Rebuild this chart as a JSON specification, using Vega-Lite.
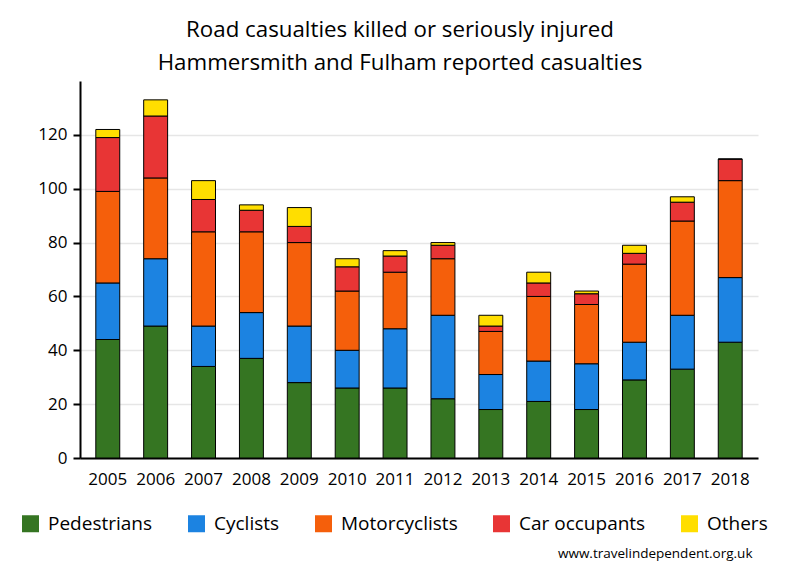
{
  "$schema": "https://vega.github.io/schema/vega-lite/v6.json",
  "autosize": "none",
  "width": 678,
  "height": 377,
  "padding": {"left": 80, "top": 81, "right": 42, "bottom": 122},
  "background": "white",
  "title": {
    "text": ["Road casualties killed or seriously injured", "Hammersmith and Fulham reported casualties"],
    "font": "Open Sans",
    "fontSize": 22.3,
    "fontWeight": "normal",
    "color": "black",
    "lineHeight": 33,
    "anchor": "middle",
    "frame": "group",
    "dx": -19,
    "offset": 7
  },
  "data": {
    "values": [
      {"year": "2005", "type": "Pedestrians", "value": 44},
      {"year": "2005", "type": "Cyclists", "value": 21},
      {"year": "2005", "type": "Motorcyclists", "value": 34},
      {"year": "2005", "type": "Car occupants", "value": 20},
      {"year": "2005", "type": "Others", "value": 3},
      {"year": "2006", "type": "Pedestrians", "value": 49},
      {"year": "2006", "type": "Cyclists", "value": 25},
      {"year": "2006", "type": "Motorcyclists", "value": 30},
      {"year": "2006", "type": "Car occupants", "value": 23},
      {"year": "2006", "type": "Others", "value": 6},
      {"year": "2007", "type": "Pedestrians", "value": 34},
      {"year": "2007", "type": "Cyclists", "value": 15},
      {"year": "2007", "type": "Motorcyclists", "value": 35},
      {"year": "2007", "type": "Car occupants", "value": 12},
      {"year": "2007", "type": "Others", "value": 7},
      {"year": "2008", "type": "Pedestrians", "value": 37},
      {"year": "2008", "type": "Cyclists", "value": 17},
      {"year": "2008", "type": "Motorcyclists", "value": 30},
      {"year": "2008", "type": "Car occupants", "value": 8},
      {"year": "2008", "type": "Others", "value": 2},
      {"year": "2009", "type": "Pedestrians", "value": 28},
      {"year": "2009", "type": "Cyclists", "value": 21},
      {"year": "2009", "type": "Motorcyclists", "value": 31},
      {"year": "2009", "type": "Car occupants", "value": 6},
      {"year": "2009", "type": "Others", "value": 7},
      {"year": "2010", "type": "Pedestrians", "value": 26},
      {"year": "2010", "type": "Cyclists", "value": 14},
      {"year": "2010", "type": "Motorcyclists", "value": 22},
      {"year": "2010", "type": "Car occupants", "value": 9},
      {"year": "2010", "type": "Others", "value": 3},
      {"year": "2011", "type": "Pedestrians", "value": 26},
      {"year": "2011", "type": "Cyclists", "value": 22},
      {"year": "2011", "type": "Motorcyclists", "value": 21},
      {"year": "2011", "type": "Car occupants", "value": 6},
      {"year": "2011", "type": "Others", "value": 2},
      {"year": "2012", "type": "Pedestrians", "value": 22},
      {"year": "2012", "type": "Cyclists", "value": 31},
      {"year": "2012", "type": "Motorcyclists", "value": 21},
      {"year": "2012", "type": "Car occupants", "value": 5},
      {"year": "2012", "type": "Others", "value": 1},
      {"year": "2013", "type": "Pedestrians", "value": 18},
      {"year": "2013", "type": "Cyclists", "value": 13},
      {"year": "2013", "type": "Motorcyclists", "value": 16},
      {"year": "2013", "type": "Car occupants", "value": 2},
      {"year": "2013", "type": "Others", "value": 4},
      {"year": "2014", "type": "Pedestrians", "value": 21},
      {"year": "2014", "type": "Cyclists", "value": 15},
      {"year": "2014", "type": "Motorcyclists", "value": 24},
      {"year": "2014", "type": "Car occupants", "value": 5},
      {"year": "2014", "type": "Others", "value": 4},
      {"year": "2015", "type": "Pedestrians", "value": 18},
      {"year": "2015", "type": "Cyclists", "value": 17},
      {"year": "2015", "type": "Motorcyclists", "value": 22},
      {"year": "2015", "type": "Car occupants", "value": 4},
      {"year": "2015", "type": "Others", "value": 1},
      {"year": "2016", "type": "Pedestrians", "value": 29},
      {"year": "2016", "type": "Cyclists", "value": 14},
      {"year": "2016", "type": "Motorcyclists", "value": 29},
      {"year": "2016", "type": "Car occupants", "value": 4},
      {"year": "2016", "type": "Others", "value": 3},
      {"year": "2017", "type": "Pedestrians", "value": 33},
      {"year": "2017", "type": "Cyclists", "value": 20},
      {"year": "2017", "type": "Motorcyclists", "value": 35},
      {"year": "2017", "type": "Car occupants", "value": 7},
      {"year": "2017", "type": "Others", "value": 2},
      {"year": "2018", "type": "Pedestrians", "value": 43},
      {"year": "2018", "type": "Cyclists", "value": 24},
      {"year": "2018", "type": "Motorcyclists", "value": 36},
      {"year": "2018", "type": "Car occupants", "value": 8},
      {"year": "2018", "type": "Others", "value": 0}
    ]
  },
  "transform": [
    {"calculate": "indexof(['Pedestrians', 'Cyclists', 'Motorcyclists', 'Car occupants', 'Others'], datum.type)", "as": "stackOrder"}
  ],
  "mark": {"type": "bar", "stroke": "black", "strokeWidth": 1},
  "encoding": {
    "x": {
      "field": "year",
      "type": "ordinal",
      "scale": {"paddingInner": 0.5, "paddingOuter": 0.33},
      "axis": {
        "title": "www.travelindependent.org.uk",
        "titleFont": "Open Sans",
        "titleFontSize": 13.5,
        "titleFontWeight": "normal",
        "titleColor": "black",
        "titleAnchor": "end",
        "titleAlign": "right",
        "titleBaseline": "middle",
        "titleX": 672,
        "titleY": 95,
        "labelAngle": 0,
        "labelFont": "Open Sans",
        "labelFontSize": 17,
        "labelColor": "black",
        "labelPadding": 13,
        "ticks": false,
        "domainColor": "black",
        "domainWidth": 2,
        "grid": false
      }
    },
    "y": {
      "field": "value",
      "type": "quantitative",
      "stack": "zero",
      "scale": {"domain": [0, 140], "nice": false},
      "axis": {
        "title": null,
        "values": [0, 20, 40, 60, 80, 100, 120],
        "labelFont": "Open Sans",
        "labelFontSize": 17,
        "labelColor": "black",
        "labelPadding": 6,
        "tickColor": "black",
        "tickWidth": 2,
        "tickSize": 7,
        "domainColor": "black",
        "domainWidth": 2,
        "grid": true,
        "gridColor": "#e6e6e6",
        "gridWidth": 1.5
      }
    },
    "order": {"field": "stackOrder", "type": "quantitative", "sort": "ascending"},
    "color": {
      "field": "type",
      "type": "nominal",
      "sort": ["Pedestrians", "Cyclists", "Motorcyclists", "Car occupants", "Others"],
      "scale": {
        "domain": ["Pedestrians", "Cyclists", "Motorcyclists", "Car occupants", "Others"],
        "range": ["#357522", "#1c83e1", "#f55f0b", "#e83535", "#ffde00"]
      },
      "legend": {
        "title": null,
        "orient": "none",
        "direction": "horizontal",
        "legendX": -59,
        "legendY": 433,
        "symbolType": "square",
        "symbolSize": 289,
        "symbolStrokeWidth": 0,
        "labelFont": "Open Sans",
        "labelFontSize": 19,
        "labelColor": "black",
        "labelOffset": 8,
        "columnPadding": 34,
        "labelLimit": 300
      }
    }
  },
  "config": {
    "view": {"stroke": null}
  }
}
